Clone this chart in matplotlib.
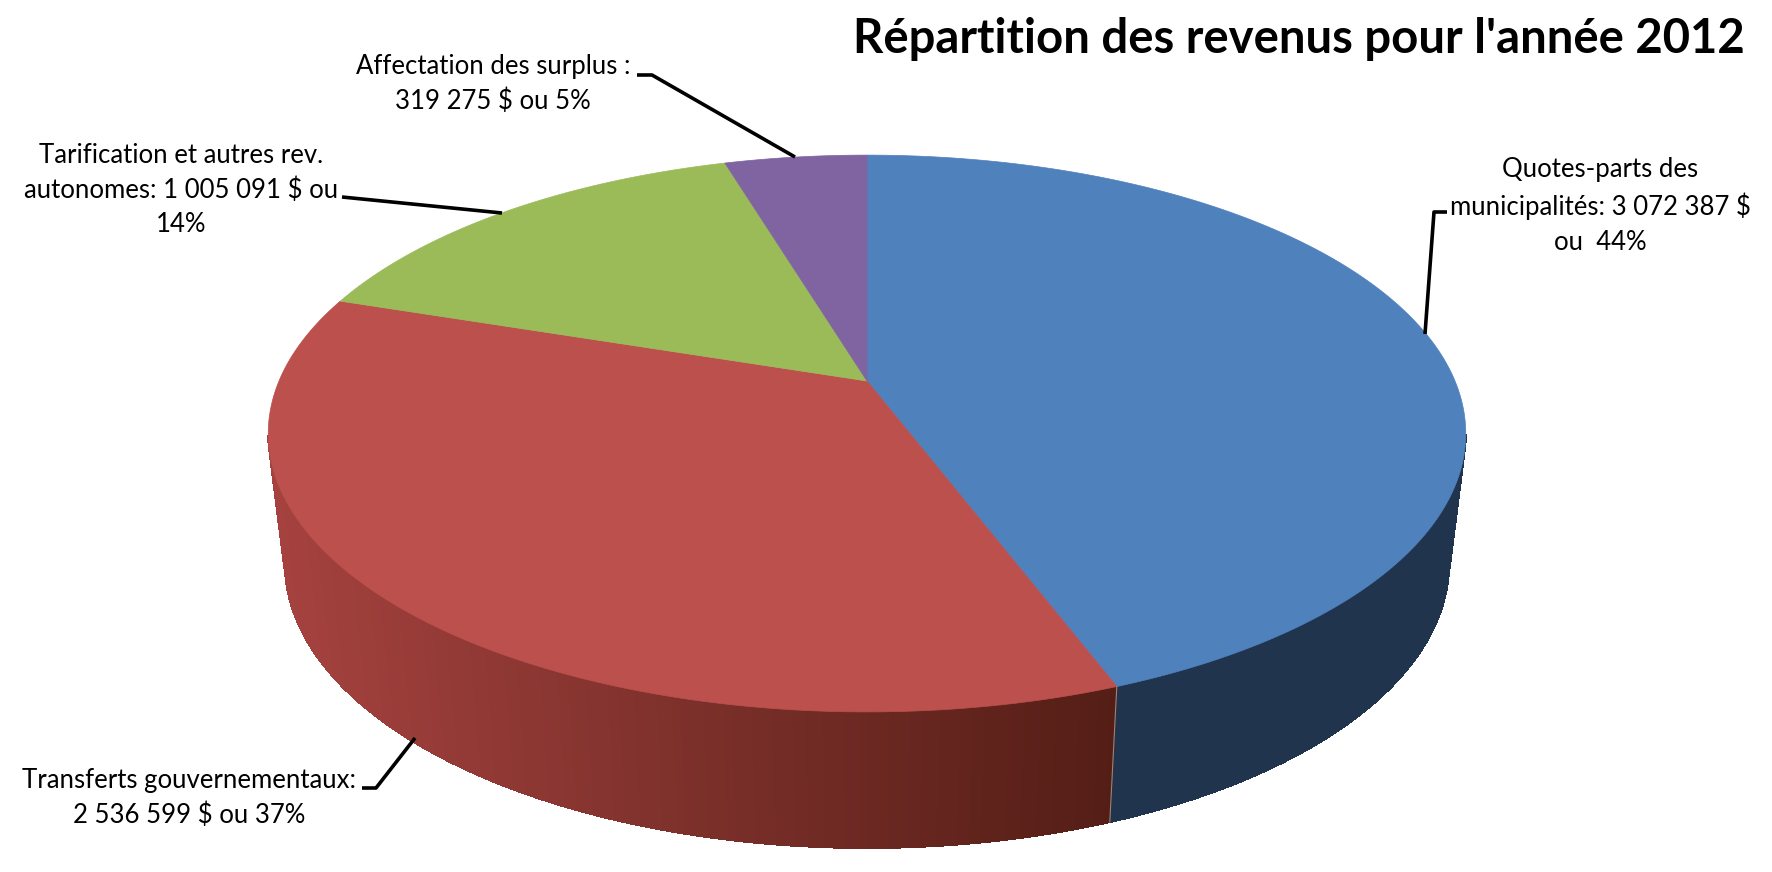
import numpy as np
import matplotlib
matplotlib.use("Agg")
import matplotlib.pyplot as plt
from matplotlib.collections import PolyCollection

# valeurs (sens horaire depuis le haut)
categories = ["Quotes-parts", "Transferts", "Tarification", "Surplus"]
valeurs = [3072387, 2536599, 1005091, 319275]
couleurs = ["#4F81BD", "#BC504D", "#9BBB59", "#8064A2"]
etiquettes = [
    "Quotes-parts des\nmunicipalités: 3 072 387 $\nou  44%",
    "Transferts gouvernementaux:\n2 536 599 $ ou 37%",
    "Tarification et autres rev.\nautonomes: 1 005 091 $ ou\n14%",
    "Affectation des surplus :\n319 275 $ ou 5%",
]
titre = "Répartition des revenus pour l'année 2012"

# projection du disque (pixels de l'image)
CX, CY = 867, 381
RX, RY, K = 588, 268.5, 0.1886
ELLIPSE_Y = 433
EPAISSEUR = 130


def haut(t):
    # t : angle horaire depuis le haut, en radians
    # léger décalage du côté gauche, la perspective d'Excel n'est pas tout à fait celle-ci
    t = t - 0.05 * np.exp(-((t - 5.08) / 0.35) ** 2)
    u, v = np.sin(t), np.cos(t)
    d = 1 + K * v
    return CX + RX * u / d, CY - RY * v / d


def bas(t):
    x, y = haut(t)
    return CX + 0.972 * (x - CX), y + EPAISSEUR + 6 * (y - ELLIPSE_Y) / 279


fig = plt.figure(figsize=(17.72, 8.72), dpi=100)
ax = fig.add_axes([0, 0, 1, 1])
ax.set_xlim(0, 1772)
ax.set_ylim(872, 0)
ax.axis("off")

parts = np.array(valeurs) / sum(valeurs)
bornes = np.concatenate([[0], np.cumsum(parts)]) * 2 * np.pi

# flanc du camembert, seulement la moitié avant
for i, coul in enumerate(couleurs):
    t = np.linspace(bornes[i], bornes[i + 1], 400)
    t = t[np.cos(t) < -K]
    if len(t) < 2:
        continue
    xh, yh = haut(t)
    xb, yb = bas(t)
    quads = [[(xh[j], yh[j]), (xh[j + 1], yh[j + 1]), (xb[j + 1], yb[j + 1]), (xb[j], yb[j])]
             for j in range(len(t) - 1)]
    if i == 1:
        f = np.clip((xh[:-1] - 270) / (1115 - 270), 0, 1)[:, None]
        teintes = (1 - f) * np.array([165, 66, 63]) / 255 + f * np.array([84, 30, 22]) / 255
    else:
        teintes = ["#20344E"] * len(quads)
    ax.add_collection(PolyCollection(quads, facecolors=teintes, edgecolors=teintes,
                                     linewidths=0.8, antialiaseds=False))

# dessus
for i, coul in enumerate(couleurs):
    t = np.linspace(bornes[i], bornes[i + 1], 300)
    x, y = haut(t)
    ax.fill(np.r_[CX, x], np.r_[CY, y], color=coul, lw=0.5)

# séparation claire entre les flancs
xs, ys = haut(bornes[1])
xi, yi = bas(bornes[1])
ax.plot([xs, xi], [ys, yi], color="#8A8A8A", lw=0.8)

# lignes de rappel
rappels = [
    ([1447, 1434, 1425], [212, 212, 334]),
    ([362, 376, 415], [788, 788, 738]),
    ([342, 502], [197, 213]),
    ([637, 652, 795], [75, 75, 157]),
]
for xr, yr in rappels:
    ax.plot(xr, yr, color="black", lw=2.6, solid_capstyle="butt")

positions = [(1600, 206), (189, 798), (181, 190), (493, 84)]
for txt, (xt, yt) in zip(etiquettes, positions):
    ax.text(xt, yt, txt, ha="center", va="center", multialignment="center",
            family="Lato", fontsize=18.5, linespacing=1.47, color="black")

ax.text(1745, 53, titre, ha="right", va="baseline", family="Lato",
        fontweight="bold", fontsize=34, color="black")

fig.savefig("out.png", dpi=100)
